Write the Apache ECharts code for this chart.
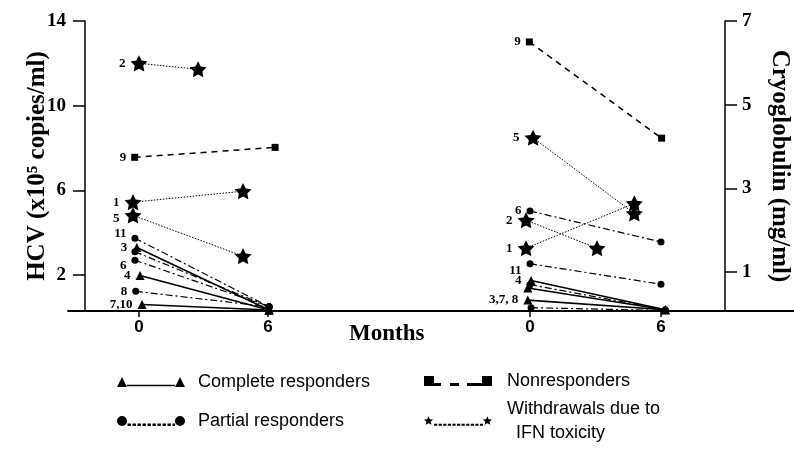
<!DOCTYPE html>
<html><head><meta charset="utf-8">
<script src="https://cdn.jsdelivr.net/npm/echarts@6/dist/echarts.min.js"></script>
<style>html,body{margin:0;padding:0;background:#fff}#c{width:794px;height:454px}</style>
</head><body><div id="c"></div><script>
// ---------------- data ----------------
const groupNames = { C: 'Complete responders', N: 'Nonresponders', P: 'Partial responders', W: 'Withdrawals due to IFN toxicity' };
const xTicks = [0, 6];
const hcvTicks = [2, 6, 10, 14];
const cryoTicks = [1, 3, 5, 7];

// HCV panel (x10^5 copies/ml)
const hcvIds        = ['2',   '9',   '1',   '5',   '11',  '3',   '',    '6',   '4',  '8',   '7,10'];
const hcvGroup      = ['W',   'N',   'W',   'W',   'P',   'C',   'P',   'P',   'C',  'P',   'C'];
const hcvStartMonth = [0,     -0.2,  -0.28, -0.28, -0.19, -0.1,  -0.19, -0.19, 0.05, -0.15, 0.14];
const hcvStartValue = [12.0,  7.56,  5.44,  4.82,  3.74,  3.3,   3.1,   2.7,   1.98, 1.23,  0.61];
const hcvEndMonth   = [2.75,  6.33,  4.84,  4.84,  6.05,  6.05,  6.05,  6.05,  6.05, 6.05,  6.05];
const hcvEndValue   = [11.72, 8.03,  5.96,  2.89,  0.5,   0.35,  0.5,   0.5,   0.35, 0.5,   0.35];

// Cryoglobulin panel (mg/ml)
const cryoIds        = ['9',   '5',  '6',  '2',   '1',   '11', '4',  '',   '',   '3,7, 8', ''];
const cryoGroup      = ['N',   'W',  'P',  'W',   'W',   'P',  'C',  'P',  'C',  'C',      'P'];
const cryoStartMonth = [-0.03, 0.14, 0,    -0.18, -0.18, 0,    0.05, 0,    -0.1, -0.1,     0.05];
const cryoStartValue = [6.5,   4.21, 2.46, 2.24,  1.57,  1.2,  0.8,  0.7,  0.62, 0.33,     0.15];
const cryoEndMonth   = [6.03,  4.78, 6.0,  3.07,  4.78,  6.0,  6.2,  6.2,  6.2,  6.2,      6.2];
const cryoEndValue   = [4.2,   2.4,  1.72, 1.57,  2.64,  0.71, 0.1,  0.1,  0.1,  0.1,      0.08];

// ---------------- styling ----------------
const hcvLabelNudge = { '11': [0, -5], '6': [0, 5], '5': [0, 3] };
const cryoLabelNudge = { '11': [0, 7] };
const SERIF = 'Liberation Serif';
const SANS = 'Liberation Sans';

function starPts(cx, cy, R, r) {
  let s = '';
  for (let k = 0; k < 10; k++) {
    const rad = (k % 2 === 0) ? R : r;
    const a = -Math.PI / 2 + k * Math.PI / 5;
    s += (k === 0 ? 'M' : 'L') + (cx + rad * Math.cos(a)).toFixed(2) + ' ' + (cy + rad * Math.sin(a)).toFixed(2);
  }
  return s + 'Z';
}
function dashes(x0, x1, y0, y1, d, g) {
  let s = '';
  for (let x = x0; x < x1 - 0.1; x += d + g) {
    const e = Math.min(x + d, x1);
    s += 'M' + x.toFixed(2) + ' ' + y0 + 'H' + e.toFixed(2) + 'V' + y1 + 'H' + x.toFixed(2) + 'Z';
  }
  return s;
}
const STAR = 'path://' + starPts(5, 5, 5, 2.5);
const ICON = {
  C: 'path://M0 10L5 0L10 10Z M10 7.8H58V9.3H10Z M58 10L63 0L68 10Z',
  N: 'path://M0 0H10V10H0Z M10 7H17V10H10Z M26 7H35V10H26Z M43 7H58V10H43Z M58 0H68V10H58Z',
  P: 'path://M0 5A5 5 0 1 1 10 5A5 5 0 1 1 0 5Z' + dashes(10.5, 58, 7.6, 10, 3.4, 1.6) + 'M58 5A5 5 0 1 1 68 5A5 5 0 1 1 58 5Z',
  W: 'path://' + starPts(4.5, 5.2, 4.8, 2.2) + dashes(10, 59, 8, 10, 3.2, 1.4) + starPts(63.5, 5.2, 4.8, 2.2)
};
const groupStyle = {
  C: { symbol: 'triangle', size: 9, line: { type: 'solid', width: 1.6 } },
  N: { symbol: 'rect', size: 7, line: { type: [6, 5], width: 1.5 } },
  P: { symbol: 'circle', size: 7, line: { type: [7, 3, 2, 3], width: 1.2 } },
  W: { symbol: STAR, size: 17, line: { type: [1.5, 1.5], width: 1 } }
};

function buildSeries(ids, groups, sm, sv, em, ev, axisIndex, nudge) {
  return ids.map((id, i) => {
    const g = groupStyle[groups[i]];
    return {
      type: 'line', name: groupNames[groups[i]],
      xAxisIndex: axisIndex, yAxisIndex: axisIndex,
      symbol: g.symbol, symbolSize: g.size, symbolKeepAspect: true,
      color: '#000', clip: false, animation: false,
      lineStyle: Object.assign({ color: '#000' }, g.line),
      itemStyle: { color: '#000', borderWidth: 0 },
      emphasis: { disabled: true },
      data: [
        { value: [sm[i], sv[i]],
          label: { show: id !== '', formatter: id, position: 'left', distance: 5,
                   offset: nudge[id] || [0, 0],
                   fontFamily: SERIF, fontWeight: 'bold', fontSize: 13, color: '#000' } },
        [em[i], ev[i]]
      ]
    };
  });
}

const series = []
  .concat(buildSeries(hcvIds, hcvGroup, hcvStartMonth, hcvStartValue, hcvEndMonth, hcvEndValue, 0, hcvLabelNudge))
  .concat(buildSeries(cryoIds, cryoGroup, cryoStartMonth, cryoStartValue, cryoEndMonth, cryoEndValue, 1, cryoLabelNudge));

const axisBlack = { color: '#000', width: 1.5 };
function xAxisCfg(grid, min, max) {
  return {
    gridIndex: grid, type: 'value', min: min, max: max,
    axisLine: { show: true, onZero: false, lineStyle: { color: '#000', width: 2 } },
    axisTick: { show: true, customValues: xTicks, length: 6, lineStyle: axisBlack },
    axisLabel: { customValues: xTicks, margin: 8, fontFamily: SANS, fontWeight: 'bold', fontSize: 17, color: '#000' },
    splitLine: { show: false }
  };
}
function yAxisCfg(grid, pos, offset, min, max, ticks, name, rot, gap) {
  return {
    gridIndex: grid, type: 'value', position: pos, offset: offset, min: min, max: max,
    axisLine: { show: true, onZero: false, lineStyle: axisBlack },
    axisTick: { show: true, customValues: ticks, length: 12, lineStyle: axisBlack },
    axisLabel: { customValues: ticks, margin: pos === 'left' ? 19 : 17, fontFamily: SERIF, fontWeight: 'bold', fontSize: 19, color: '#000' },
    splitLine: { show: false },
    name: name, nameLocation: 'middle', nameRotate: rot, nameGap: gap, nameMoveOverlap: false,
    nameTextStyle: { fontFamily: SERIF, fontWeight: 'bold', fontSize: 25, color: '#000' }
  };
}

function legendCfg(key, left, top, extra) {
  return Object.assign({
    data: [groupNames[key]], left: left, top: top, padding: 0, orient: 'horizontal',
    icon: ICON[key], itemWidth: 68, itemHeight: 10, selectedMode: false,
    itemStyle: { color: '#000', borderWidth: 0 },
    textStyle: { fontFamily: SANS, fontSize: 18, color: '#000', lineHeight: 20, padding: [0, 0, 0, key === 'C' || key === 'P' ? 8 : 10] }
  }, extra || {});
}

const option = {
  animation: false,
  backgroundColor: '#fff',
  grid: [
    { left: 68, top: 21, width: 262, height: 290, outerBoundsMode: 'none', containLabel: false },
    { left: 330, top: 21, width: 464, height: 290, outerBoundsMode: 'none', containLabel: false }
  ],
  xAxis: [xAxisCfg(0, -3.302, 8.884), xAxisCfg(1, -9.162, 12.094)],
  yAxis: [
    yAxisCfg(0, 'left', -17, 0.3, 14, hcvTicks, 'HCV (x10\u2075 copies/ml)', 90, 35),
    yAxisCfg(1, 'right', -69, 0.07, 7, cryoTicks, 'Cryoglobulin (mg/ml)', -90, 42)
  ],
  title: [{ text: 'Months', left: 349, top: 323, padding: 0,
            textStyle: { fontFamily: SERIF, fontWeight: 'bold', fontSize: 23, color: '#000' } }],
  legend: [
    legendCfg('C', 117, 372),
    legendCfg('N', 424, 371),
    legendCfg('P', 117, 411),
    legendCfg('W', 424, 385, {
      formatter: () => 'Withdrawals due to\n\u2002IFN toxicity',
      textStyle: { fontFamily: SANS, fontSize: 18, color: '#000', lineHeight: 24, padding: [24, 0, 0, 10] }
    })
  ],
  series: series
};
const chart = echarts.init(document.getElementById('c'), null, { renderer: 'canvas' });
chart.setOption(option);
</script></body></html>
